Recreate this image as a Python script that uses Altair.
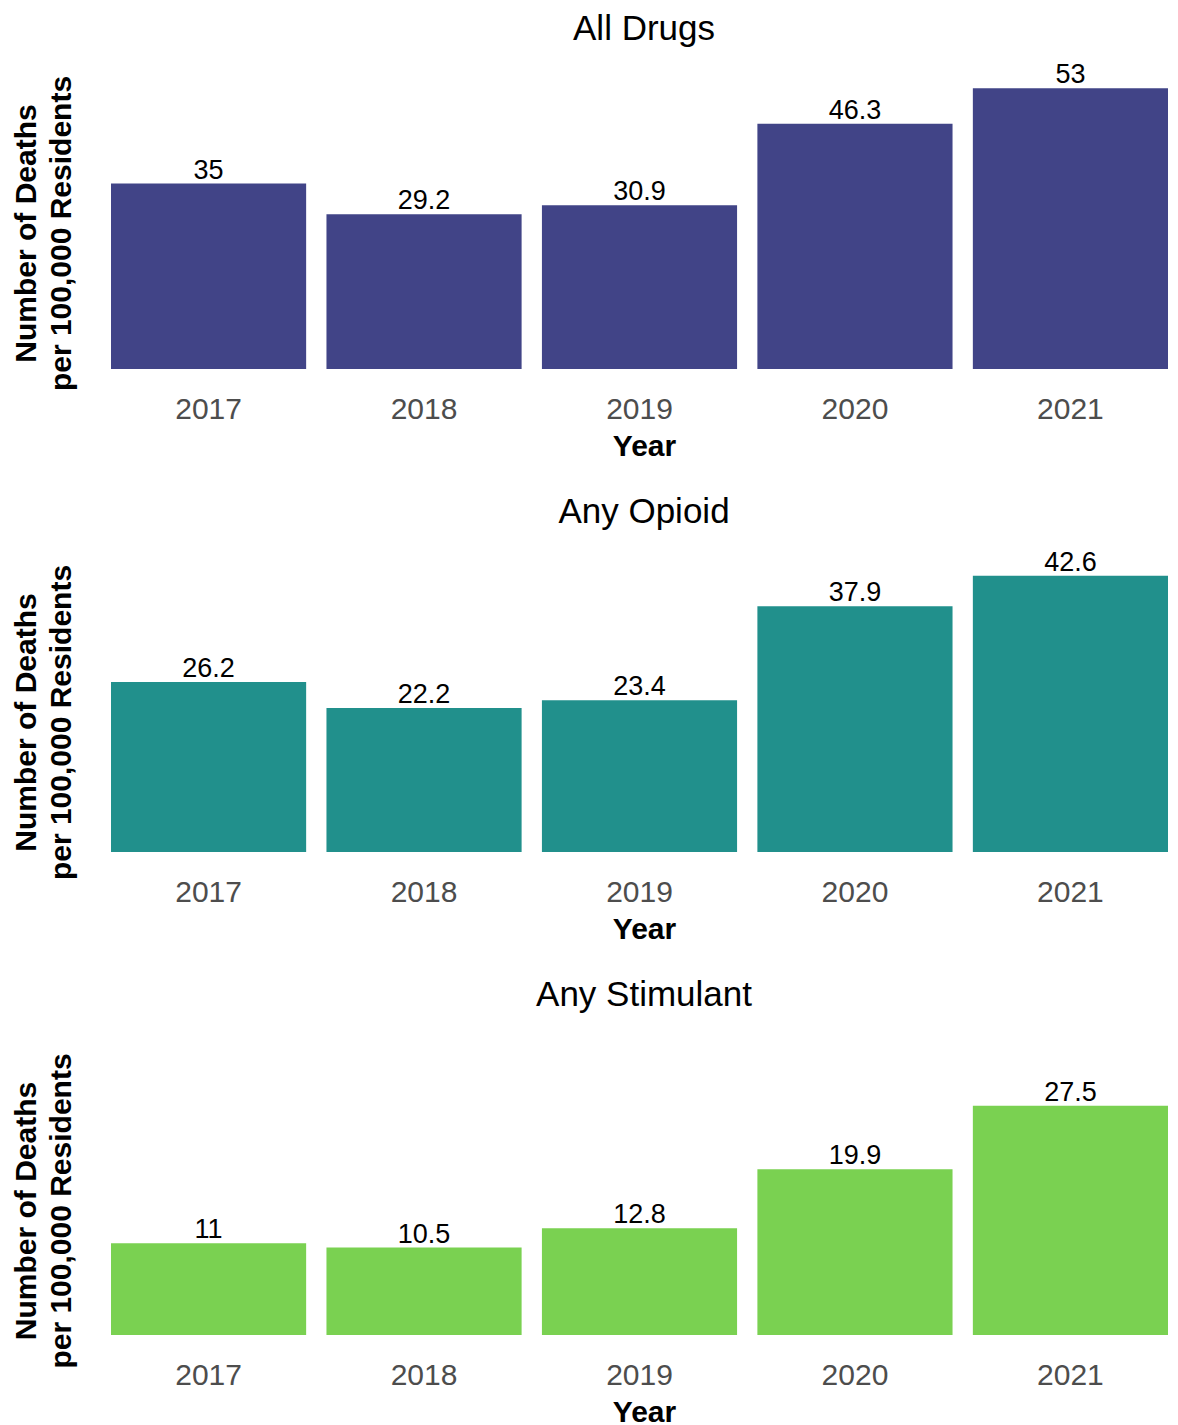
import altair as alt
import pandas as pd

years = ["2017", "2018", "2019", "2020", "2021"]
all_drugs = [35, 29.2, 30.9, 46.3, 53]
any_opioid = [26.2, 22.2, 23.4, 37.9, 42.6]
any_stimulant = [11, 10.5, 12.8, 19.9, 27.5]
panel_titles = ["All Drugs", "Any Opioid", "Any Stimulant"]
series = [all_drugs, any_opioid, any_stimulant]
colors = ["#414487", "#21908C", "#7AD151"]
y_max = [58.5, 47.8, 37.2]
ytitle_above = [136, 130, 124.5]

FONT = "Liberation Sans"
H = 310
X0 = 88            # page x of plot left edge
W = 1081           # plot width (keeps whole svg within the page)
LEFT_GAP = 112 - X0
PI = 0.0943
STEP = (W - LEFT_GAP) / (5 - PI)
PO = LEFT_GAP / (2 * STEP)

charts = []
for title, vals, col, ymax, above in zip(panel_titles, series, colors, y_max, ytitle_above):
    df = pd.DataFrame({"Year": years, "Rate": vals, "Label": [f"{v:g}" for v in vals]})
    base = alt.Chart(df).encode(
        x=alt.X("Year:N",
                scale=alt.Scale(paddingInner=PI, paddingOuter=PO, align=1, round=False),
                axis=alt.Axis(title="Year", labelAngle=0, labelFontSize=30, labelColor="#4D4D4D",
                              ticks=False, domain=False, grid=False, labelPadding=25,
                              titleFontSize=30, titleFontWeight="bold", titleColor="black",
                              titlePadding=7, titleX=645 - X0)),
        y=alt.Y("Rate:Q",
                scale=alt.Scale(domain=[0, ymax], nice=False, zero=True),
                axis=alt.Axis(title=["Number of Deaths", "per 100,000 Residents"],
                              labels=False, ticks=False, domain=False, grid=False,
                              titleFontSize=30, titleFontWeight="bold", titleColor="black",
                              titleLineHeight=35, titlePadding=11,
                              titleY=H - above)),
    )
    bars = base.mark_bar(color=col)
    text = base.mark_text(baseline="alphabetic", dy=-5, fontSize=27, color="black", font=FONT).encode(
        text="Label:N")
    chart = (bars + text).properties(
        width=W, height=H,
        title=alt.TitleParams(title, fontSize=35, fontWeight="normal", color="black",
                              anchor="middle", frame="group", offset=12, dx=645 - (X0 + W / 2)),
    )
    charts.append(chart)

chart = alt.vconcat(*charts, spacing=34).properties(
    padding={"top": 4, "left": 3, "right": 0, "bottom": 0}, background="white"
).configure(font=FONT).configure_view(stroke="transparent", strokeWidth=0)

chart.save("out.html", embed_options={"renderer": "svg", "actions": False})
